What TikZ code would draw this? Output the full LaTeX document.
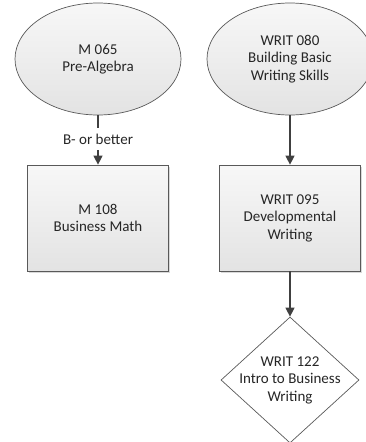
\documentclass[tikz,border=0pt]{standalone}
\usepackage{fontspec}
\setmainfont{Carlito}
\usetikzlibrary{shapes.geometric,arrows.meta,shadows}
\begin{document}
\begin{tikzpicture}[x=1pt,y=-1pt,
  every node/.style={font=\fontsize{15}{17.5}\selectfont, align=center, text=black!85},
  shapebase/.style={draw=black!65, line width=0.7pt, top color=black!3, bottom color=black!11},
  ovalbox/.style={shapebase, ellipse, minimum width=166pt, minimum height=112pt, inner sep=0pt},
  rectbox/.style={shapebase, rectangle, minimum width=141pt, minimum height=106pt, drop shadow={shadow xshift=1.5pt, shadow yshift=-1.5pt, opacity=0.3}},
  decbox/.style={draw=black!65, line width=0.7pt, fill=white, diamond, aspect=1.1, minimum width=138pt, minimum height=126pt, inner sep=-10pt},
  conn/.style={draw=black!75, line width=1.2pt},
  arrow/.style={conn, -{Triangle[width=9pt,length=9pt]}}]
\useasboundingbox (0,0) rectangle (365,442);
\node[ovalbox] (m065) at (98,59) {M 065\\Pre-Algebra};
\node[ovalbox] (w080) at (290,59) {WRIT 080\\Building Basic\\Writing Skills};
\node[rectbox] (m108) at (98,218) {M 108\\Business Math};
\node[rectbox] (w095) at (290,218) {WRIT 095\\Developmental\\Writing};
\node[decbox] (w122) at (290,380) {WRIT 122\\Intro to Business\\Writing};
\node[inner sep=0pt, minimum height=22pt] (lbl) at (98,139) {B- or better};
\draw[conn] (m065.south) -- (lbl.north);
\draw[arrow] (lbl.south) -- (m108.north);
\draw[arrow] (w080.south) -- (w095.north);
\draw[arrow] (w095.south) -- (w122.north);
\end{tikzpicture}
\end{document}
